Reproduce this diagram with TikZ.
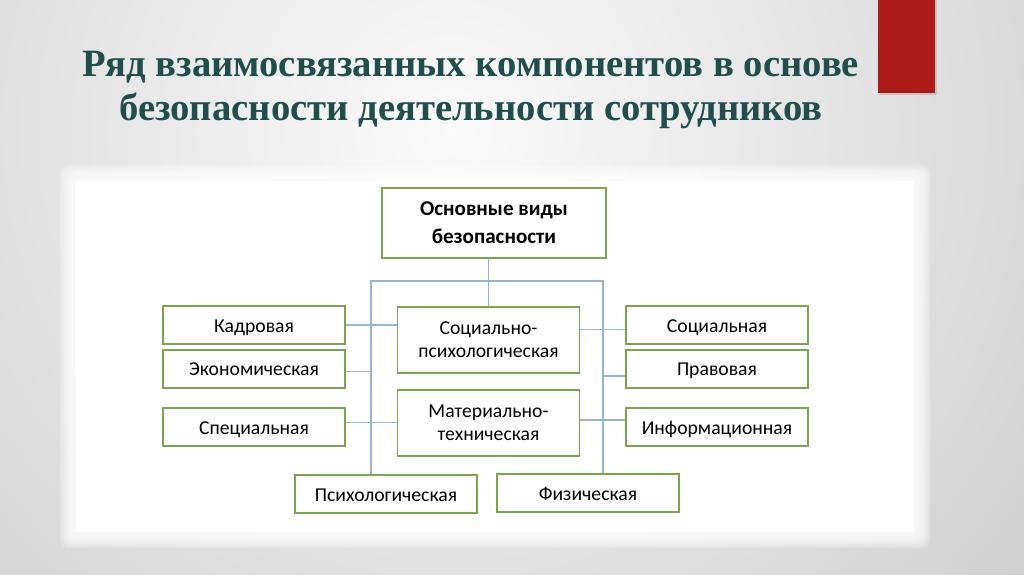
\documentclass[tikz,border=0pt]{standalone}
\usepackage{fontspec}
\setmainfont{Carlito}
\newfontfamily\titlefont{Liberation Serif}
\usepackage{xcolor}
\usepackage{tikz}
\usetikzlibrary{positioning,calc}

\definecolor{boxgreen}{RGB}{122,165,78}
\definecolor{linkblue}{RGB}{150,180,205}
\definecolor{titleteal}{RGB}{31,78,77}
\definecolor{barred}{RGB}{174,26,23}

\begin{document}
\begin{tikzpicture}[
  x=0.025cm, y=-0.025cm,
  box/.style={draw=boxgreen, line width=1.3pt, fill=white, minimum width=4.55cm, minimum height=0.95cm, inner sep=1pt, text height=11pt, text depth=1pt, font=\fontsize{14}{16.5}\selectfont},
  tallbox/.style={box, minimum height=1.65cm, text height=, text depth=, align=center},
  link/.style={draw=linkblue, line width=0.9pt},
]
  \useasboundingbox (0,0) rectangle (1024,574);
  \begin{scope}
    \clip (0,0) rectangle (1024,574);
    \shade[inner color=gray!4, outer color=gray!44] (450,130) circle (900);
  \end{scope}
  \foreach \d in {0,2,...,14}
    \fill[white, opacity=0.22, rounded corners=6] (60+\d,165+\d) rectangle (930-\d,548-\d);
  \fill[white] (76,181) rectangle (914,532);
  \fill[black, opacity=0.12] (880,0) rectangle (937,95);
  \fill[barred] (878,0) rectangle (935,93);

  \node[font=\titlefont\bfseries\fontsize{27.5}{30.6}\selectfont, text=titleteal, align=center] (title) at (471,90)
    {Ряд взаимосвязанных компонентов в основе\\безопасности деятельности сотрудников};

  \node[tallbox, minimum width=5.6cm, minimum height=1.75cm, font=\bfseries\fontsize{15}{20}\selectfont] (base) at (494,223) {Основные виды\\безопасности};

  \node[box] (kadr) at (254,325) {Кадровая};
  \node[box, below=0.1cm of kadr] (econ) {Экономическая};
  \node[box] (spec) at (254,427) {Специальная};
  \node[tallbox] (socpsy) at (488.5,340) {Социально-\\психологическая};
  \node[tallbox] (mat) at (488.5,423) {Материально-\\техническая};
  \node[box] (soc) at (717,325) {Социальная};
  \node[box, below=0.1cm of soc] (prav) {Правовая};
  \node[box] (info) at (717,427) {Информационная};
  \node[box] (psy) at (386,494) {Психологическая};
  \node[box] (fiz) at (588,493) {Физическая};

  \coordinate (busL) at (371,281);
  \coordinate (busR) at (603,281);
  \draw[link] (socpsy.north) -- (socpsy.north |- base.south);
  \draw[link] (psy.north -| busL) -- (busL) -- (busR) -- (fiz.north -| busR);
  \draw[link] (kadr.east) -- (socpsy.west |- kadr.east);
  \draw[link] ([yshift=-2pt]econ.east) -- ([yshift=-2pt]econ.east -| busL);
  \draw[link] ([yshift=3pt]spec.east) -- ([yshift=3pt]mat.west |- spec.east);
  \draw[link] ([yshift=-3pt]socpsy.east |- soc.west) -- ([yshift=-3pt]soc.west);
  \draw[link] ([yshift=-5pt]busR |- prav.west) -- ([yshift=-5pt]prav.west);
  \draw[link] ([yshift=5pt]mat.east |- info.west) -- ([yshift=5pt]info.west);
\end{tikzpicture}
\end{document}
